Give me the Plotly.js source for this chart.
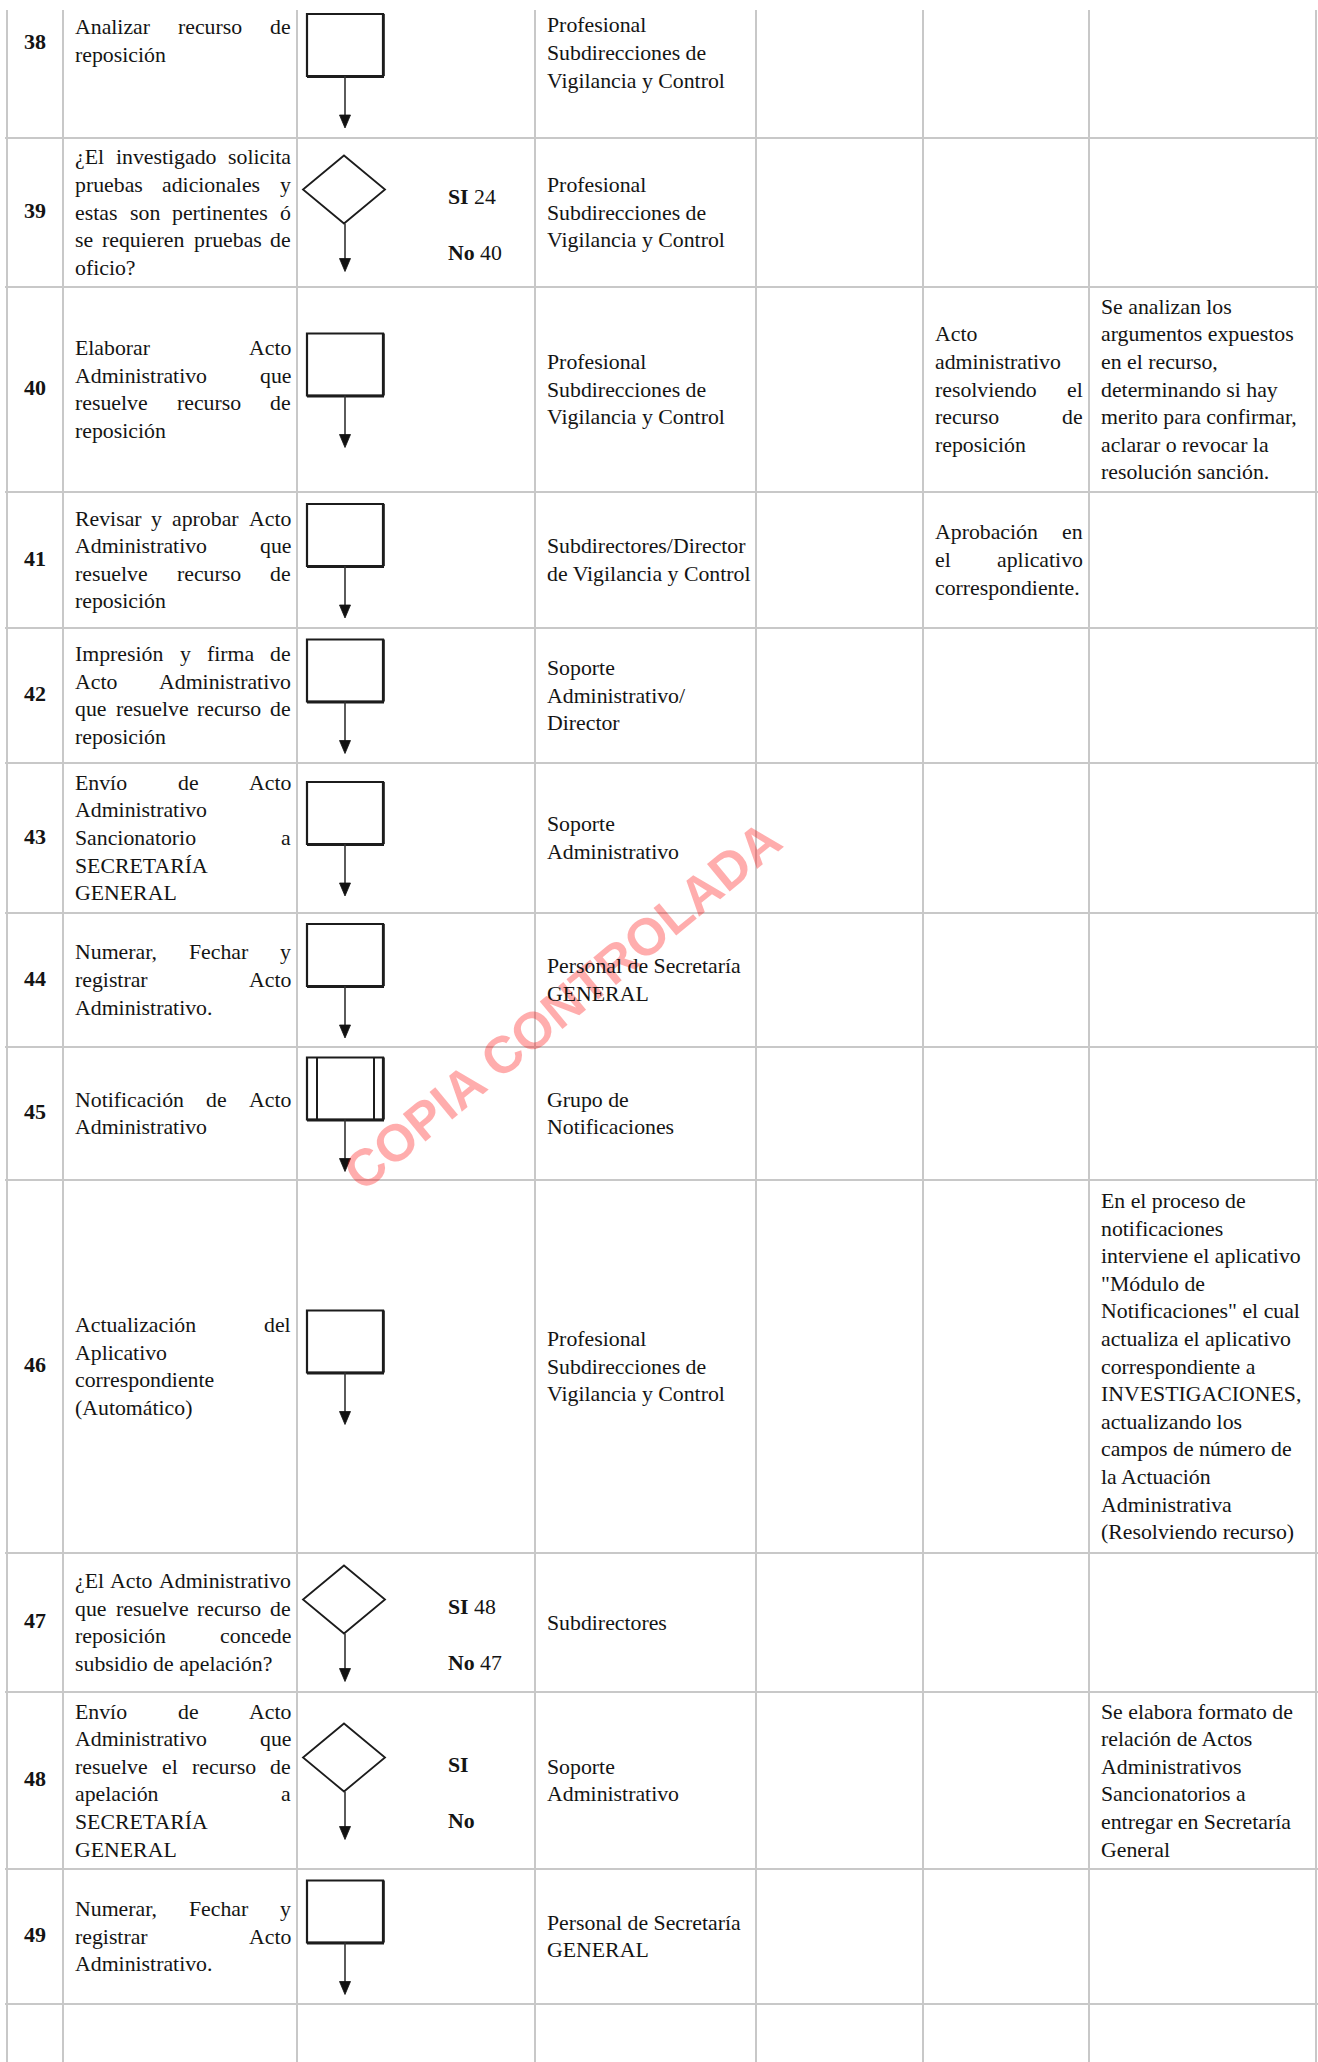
<!DOCTYPE html>
<html>
<head>
<meta charset="utf-8">
<script src="https://cdn.plot.ly/plotly-3.0.1.min.js"></script>
<style>
html,body{margin:0;padding:0;background:#ffffff;}
#chart{width:1318px;height:2062px;}
</style>
</head>
<body>
<div id="chart"></div>
<script>
// ---------------- DATA (one entry per table row: steps 38 .. 50) ----------------
const stepNumbers = ["38","39","40","41","42","43","44","45","46","47","48","49",""];

const activityLines = [
  ["Analizar recurso de", "reposición"],
  ["¿El investigado solicita", "pruebas adicionales y", "estas son pertinentes ó", "se requieren pruebas de", "oficio?"],
  ["Elaborar Acto", "Administrativo que", "resuelve recurso de", "reposición"],
  ["Revisar y aprobar Acto", "Administrativo que", "resuelve recurso de", "reposición"],
  ["Impresión y firma de", "Acto Administrativo", "que resuelve recurso de", "reposición"],
  ["Envío de Acto", "Administrativo", "Sancionatorio a", "SECRETARÍA", "GENERAL"],
  ["Numerar, Fechar y", "registrar Acto", "Administrativo."],
  ["Notificación de Acto", "Administrativo"],
  ["Actualización del", "Aplicativo", "correspondiente", "(Automático)"],
  ["¿El Acto Administrativo", "que resuelve recurso de", "reposición concede", "subsidio de apelación?"],
  ["Envío de Acto", "Administrativo que", "resuelve el recurso de", "apelación a", "SECRETARÍA", "GENERAL"],
  ["Numerar, Fechar y", "registrar Acto", "Administrativo."],
  []
];

const symbolTypes = ["proceso","decision","proceso","proceso","proceso","proceso","proceso",
                     "subproceso","proceso","decision","decision","proceso",null];

const siTargets = [null,"24",null,null,null,null,null,null,null,"48","",null,null];
const noTargets = [null,"40",null,null,null,null,null,null,null,"47","",null,null];

const responsibleLines = [
  ["Profesional", "Subdirecciones de", "Vigilancia y Control"],
  ["Profesional", "Subdirecciones de", "Vigilancia y Control"],
  ["Profesional", "Subdirecciones de", "Vigilancia y Control"],
  ["Subdirectores/Director", "de Vigilancia y Control"],
  ["Soporte", "Administrativo/", "Director"],
  ["Soporte", "Administrativo"],
  ["Personal de Secretaría", "GENERAL"],
  ["Grupo de", "Notificaciones"],
  ["Profesional", "Subdirecciones de", "Vigilancia y Control"],
  ["Subdirectores"],
  ["Soporte", "Administrativo"],
  ["Personal de Secretaría", "GENERAL"],
  []
];

const recordLines = [
  [], [],
  ["Acto", "administrativo", "resolviendo el", "recurso de", "reposición"],
  ["Aprobación en", "el aplicativo", "correspondiente."],
  [], [], [], [], [], [], [], [], []
];

const observationLines = [
  [], [],
  ["Se analizan los", "argumentos expuestos", "en el recurso,", "determinando si hay",
   "merito para confirmar,", "aclarar o revocar la", "resolución sanción."],
  [], [], [], [], [], 
  ["En el proceso de", "notificaciones", "interviene el aplicativo", "\"Módulo de",
   "Notificaciones\" el cual", "actualiza el aplicativo", "correspondiente a",
   "INVESTIGACIONES,", "actualizando los", "campos de número de", "la Actuación",
   "Administrativa", "(Resolviendo recurso)"],
  [],
  ["Se elabora formato de", "relación de Actos", "Administrativos", "Sancionatorios a",
   "entregar en Secretaría", "General"],
  [], []
];

const watermarkText = "COPIA CONTROLADA";

// ---------------- LAYOUT (page geometry, pixels) ----------------
const W = 1318, H = 2062;
const colEdges = [7, 63, 297, 535, 756, 923, 1089, 1316];
const rowEdges = [-30, 138, 287, 492, 628, 763, 913, 1047, 1180, 1553, 1692, 1869, 2004, 2062];
const gridTop = 10;
// first row is cut by the page top: its cells sit at their own heights
const firstRowCenters = {label: 43, activity: 41, responsible: 53, symbol: 70};

const FS = 21.8, LH = 27.6;
const SERIF = '"Liberation Serif", "Times New Roman", serif';
const TXT = '#141414';
const GRID = '#c8c8c8';
const PADL = 12, PADR = 6;

function rowCenter(i, part) {
  if (i === 0 && firstRowCenters[part] !== undefined) return firstRowCenters[part];
  return (rowEdges[i] + rowEdges[i + 1]) / 2;
}

const ctx = document.createElement('canvas').getContext('2d');
ctx.font = FS + 'px "Liberation Serif"';
const tw = t => ctx.measureText(t).width;

const annotations = [];
const shapes = [];

// watermark (semi-transparent stamp)
annotations.push({
  x: 562, y: 1006, xref: 'x', yref: 'y', showarrow: false,
  text: '<b>' + watermarkText + '</b>', textangle: -39.4,
  xanchor: 'center', yanchor: 'middle',
  font: {family: '"Liberation Sans", Arial, sans-serif', size: 52, color: 'rgba(255,0,0,0.32)'}
});

function addText(x, y, text, extra) {
  annotations.push(Object.assign({
    x: x, y: y, xref: 'x', yref: 'y', text: text, showarrow: false,
    xanchor: 'left', yanchor: 'middle', borderpad: 0, borderwidth: 0,
    font: {family: SERIF, size: FS, color: TXT}
  }, extra || {}));
}

function addBlock(lines, col, yc, justify) {
  const xl = colEdges[col] + PADL, xr = colEdges[col + 1] - PADR;
  const n = lines.length;
  lines.forEach((line, i) => {
    const y = yc + (i - (n - 1) / 2) * LH;
    const words = line.split(' ');
    if (justify && i < n - 1 && words.length > 1) {
      const tot = words.reduce((s, wd) => s + tw(wd), 0);
      const gap = Math.max(3, (xr - xl - tot) / (words.length - 1));
      let x = xl;
      words.forEach(wd => { addText(x, y, wd); x += tw(wd) + gap; });
    } else {
      addText(xl, y, line);
    }
  });
}

// ---------------- grid ----------------
colEdges.forEach(x => shapes.push({type: 'line', xref: 'x', yref: 'y', x0: x, x1: x, y0: gridTop, y1: H,
  line: {color: GRID, width: 2}}));
rowEdges.slice(1, -1).forEach(y => shapes.push({type: 'line', xref: 'x', yref: 'y', x0: 5, x1: W, y0: y, y1: y,
  line: {color: GRID, width: 2}}));

// ---------------- text columns ----------------
activityLines.forEach((ls, i) => addBlock(ls, 1, rowCenter(i, 'activity'), true));
responsibleLines.forEach((ls, i) => addBlock(ls, 3, rowCenter(i, 'responsible'), false));
recordLines.forEach((ls, i) => addBlock(ls, 5, rowCenter(i, 'record'), true));
observationLines.forEach((ls, i) => addBlock(ls, 6, rowCenter(i, 'observation'), false));

// decision outcomes
siTargets.forEach((t, i) => {
  if (t === null) return;
  const yc = rowCenter(i, 'symbol');
  addText(448, yc - 16, '<b>SI</b>' + (t ? ' ' + t : ''));
  addText(448, yc + 40, '<b>No</b>' + (noTargets[i] ? ' ' + noTargets[i] : ''));
});

// ---------------- flow symbols ----------------
const symCx = 345, boxW = 76, boxH = 62, diaW = 82, diaH = 68;
const INK = '#1c1c1c';
symbolTypes.forEach((t, i) => {
  if (!t) return;
  const isDec = t === 'decision';
  const sh = isDec ? diaH : boxH;
  const al = isDec ? 48 : 52;
  const yc = rowCenter(i, 'symbol') + 1;
  const top = yc - (sh + al) / 2;
  const bot = top + sh;
  const tip = bot + al;
  if (isDec) {
    const cx = symCx - 1;
    shapes.push({type: 'path', xref: 'x', yref: 'y',
      path: `M ${cx},${top} L ${cx + diaW / 2},${top + diaH / 2} L ${cx},${bot} L ${cx - diaW / 2},${top + diaH / 2} Z`,
      fillcolor: '#ffffff', line: {color: INK, width: 1.8}});
  } else {
    shapes.push({type: 'rect', xref: 'x', yref: 'y', x0: symCx - boxW / 2, x1: symCx + boxW / 2, y0: top, y1: bot,
      fillcolor: '#ffffff', line: {color: INK, width: 2.2}});
    shapes.push({type: 'line', xref: 'x', yref: 'y', x0: symCx - boxW / 2, x1: symCx + boxW / 2 + 1, y0: bot + 0.6, y1: bot + 0.6,
      line: {color: INK, width: 2.6}});
    shapes.push({type: 'line', xref: 'x', yref: 'y', x0: symCx + boxW / 2 + 0.5, x1: symCx + boxW / 2 + 0.5, y0: top, y1: bot,
      line: {color: INK, width: 2.6}});
    if (t === 'subproceso') {
      [symCx - boxW / 2 + 10, symCx + boxW / 2 - 9].forEach(x => shapes.push({type: 'line', xref: 'x', yref: 'y',
        x0: x, x1: x, y0: top, y1: bot, line: {color: INK, width: 2}}));
    }
  }
  shapes.push({type: 'line', xref: 'x', yref: 'y', x0: symCx, x1: symCx, y0: bot, y1: tip - 11,
    line: {color: '#333333', width: 1.6}});
  shapes.push({type: 'path', xref: 'x', yref: 'y',
    path: `M ${symCx - 5.5},${tip - 13} L ${symCx + 5.5},${tip - 13} L ${symCx},${tip} Z`,
    fillcolor: '#111111', line: {color: '#111111', width: 0.8}});
});

// ---------------- step numbers as a text trace ----------------
const numTrace = {
  type: 'scatter', mode: 'text',
  x: stepNumbers.map(() => (colEdges[0] + colEdges[1]) / 2),
  y: stepNumbers.map((s, i) => rowCenter(i, 'label')),
  text: stepNumbers,
  textposition: 'middle center',
  textfont: {family: SERIF, size: 22, color: '#141414', weight: 'bold'},
  hoverinfo: 'skip', showlegend: false, cliponaxis: false
};

const layout = {
  width: W, height: H,
  margin: {l: 0, r: 0, t: 0, b: 0, pad: 0},
  paper_bgcolor: '#ffffff', plot_bgcolor: '#ffffff',
  xaxis: {range: [0, W], visible: false, fixedrange: true},
  yaxis: {range: [H, 0], visible: false, fixedrange: true},
  showlegend: false,
  shapes: shapes,
  annotations: annotations
};

Plotly.newPlot('chart', [numTrace], layout, {staticPlot: true, displayModeBar: false});
</script>
</body>
</html>
